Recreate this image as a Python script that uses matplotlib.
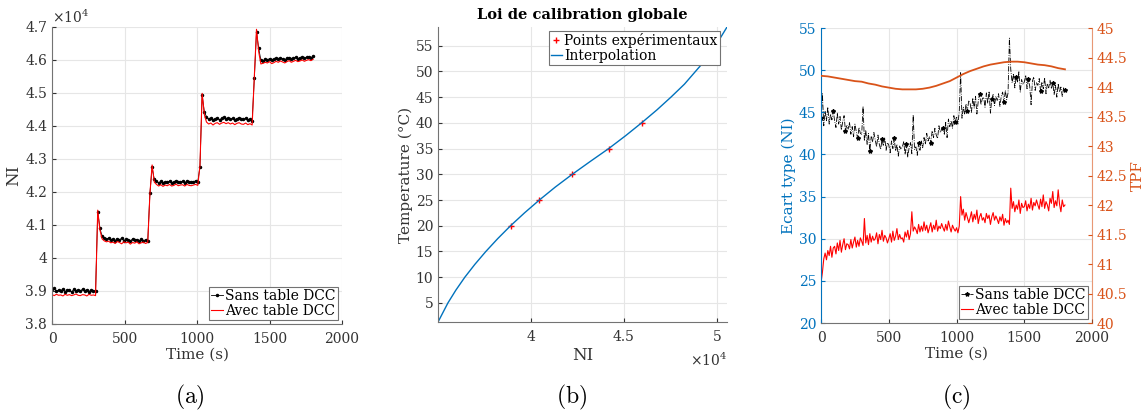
import matplotlib.pyplot as plt
import numpy as np
from matplotlib.ticker import FuncFormatter

plt.rcParams['font.family'] = 'DejaVu Serif'
plt.rcParams['mathtext.fontset'] = 'dejavuserif'

# ---------------- data : (a) NI step response ----------------
time_a = np.arange(0, 1801, 15)  # [s]
ni_sans = [39050, 39080, 38990, 39030, 39010, 39060, 38980, 39040, 39020, 38970,
           39050, 39010, 39030, 38990, 39060, 39000, 39040, 38980, 39030, 39010, 38990,
           41400,
           40900, 40660, 40620, 40580, 40600, 40540, 40570, 40520, 40590, 40550,
           40600, 40530, 40570, 40560, 40510, 40580, 40540, 40560, 40500, 40570,
           40530, 40550, 40520,
           41970, 42750,
           42380, 42330, 42280, 42320, 42260, 42310, 42290, 42330, 42280, 42300,
           42340, 42290, 42310, 42320, 42280, 42330, 42300, 42290, 42310, 42340, 42300,
           42770, 44950, 44430,
           44280, 44200, 44230, 44170, 44220, 44250, 44190, 44230, 44260, 44210,
           44240, 44200, 44230, 44190, 44220, 44250, 44210, 44200, 44230, 44180, 44210, 44160,
           45450, 46850, 46350,
           46000, 45980, 46020, 46010, 46040, 45990, 46030, 46050, 46020, 46060,
           46040, 46010, 46050, 46070, 46030, 46060, 46080, 46040, 46070, 46090,
           46060, 46080, 46100, 46070, 46110]
ni_avec = [38890, 38860, 38900, 38870, 38880, 38850, 38900, 38870, 38890, 38860,
           38880, 38910, 38870, 38860, 38890, 38880, 38850, 38900, 38870, 38880, 38860,
           41450,
           40850, 40580, 40520, 40490, 40510, 40460, 40480, 40440, 40500, 40470,
           40430, 40490, 40460, 40480, 40420, 40470, 40450, 40490, 40430, 40460,
           40480, 40440, 40470,
           41950, 42820,
           42300, 42230, 42180, 42220, 42170, 42210, 42190, 42230, 42180, 42200,
           42240, 42190, 42210, 42220, 42180, 42230, 42200, 42190, 42210, 42230, 42200,
           42800, 44990, 44350,
           44120, 44060, 44090, 44030, 44080, 44100, 44050, 44090, 44110, 44070,
           44100, 44060, 44090, 44040, 44080, 44100, 44060, 44050, 44090, 44040, 44070, 44030,
           45500, 46930, 46250,
           45880, 45900, 45930, 45910, 45950, 45890, 45920, 45960, 45930, 45970,
           45940, 45910, 45950, 45980, 45930, 45960, 45990, 45950, 45970, 46000,
           45960, 45990, 46010, 45980, 46020]

# ---------------- data : (b) calibration law ----------------
ni_points = [38900, 40450, 42220, 44180, 45950]
temp_points = [20, 25, 30, 35, 40]
ni_curve = [35000, 35530, 35960, 36440, 36980, 37570, 38210, 38900, 39650, 40450,
            41300, 42220, 43190, 44180, 45090, 45950, 46770, 47530, 48250, 48850,
            49450, 49930, 50540]
temp_curve = [1.3, 5, 7.5, 10, 12.5, 15, 17.5, 20, 22.5, 25,
              27.5, 30, 32.5, 35, 37.5, 40, 42.5, 45, 47.5, 50,
              52.5, 55, 58.6]

# ---------------- data : (c) standard deviation / TPF ----------------
time_c = np.arange(0, 1801, 10)  # [s]
std_sans = [44.3, 47.2, 43.4, 45.1, 44.0, 45.6, 43.6, 44.8, 44.1, 45.2,
            44.0, 43.2, 44.9, 43.6, 44.5, 42.9, 43.9, 44.6, 42.8, 43.5,
            43.0, 43.8, 42.4, 43.3, 42.1, 43.6, 42.7, 41.9, 43.2, 42.5,
            42.4, 45.7, 41.6, 42.9, 41.2, 42.5, 40.4, 42.1, 41.5, 42.6,
            41.7, 40.9, 42.3, 41.2, 40.6, 41.8, 41.0, 42.0, 40.5, 41.4,
            41.1, 40.2, 41.6, 40.7, 41.9, 40.4, 41.2, 39.8, 41.0, 40.6,
            40.9, 41.5, 40.0, 41.2, 39.7, 40.8, 41.4, 40.1, 44.7, 40.6,
            40.9, 39.9, 41.3, 40.5, 41.6, 40.8, 42.0, 41.2, 42.5, 41.6,
            42.1, 41.4, 42.8, 42.0, 43.1, 42.3, 41.9, 43.4, 42.6, 43.0,
            43.1, 42.4, 43.8, 42.0, 44.2, 43.3, 44.0, 43.1, 44.6, 43.8,
            44.5, 43.6, 45.1, 49.7, 44.3, 45.6, 44.8, 46.0, 45.2, 46.4,
            46.1, 45.0, 46.7, 45.5, 46.9, 44.8, 46.3, 47.2, 45.9, 46.6,
            46.8, 45.6, 47.3, 46.1, 47.5, 44.9, 46.6, 47.1, 45.8, 46.9,
            46.4, 47.2, 45.7, 46.9, 47.4, 46.2, 47.6, 46.5, 47.3, 53.8,
            50.1, 48.5, 49.6, 47.9, 49.2, 48.6, 49.8, 47.4, 48.9, 48.3,
            48.6, 49.4, 47.8, 48.9, 48.1, 45.9, 48.7, 49.2, 47.6, 48.5,
            48.2, 49.0, 47.5, 48.6, 47.8, 49.1, 47.2, 48.4, 47.9, 48.8,
            47.8, 48.5, 47.1, 48.2, 46.8, 48.4, 47.4, 48.0, 46.9, 47.9,
            47.6]
std_avec = [24.8, 26.0, 27.6, 28.3, 27.5, 28.6, 28.0, 29.1, 27.8, 28.9,
            29.1, 28.2, 29.5, 28.6, 29.8, 28.4, 29.3, 30.0, 28.7, 29.4,
            29.3, 28.8, 29.9, 28.9, 29.6, 30.2, 29.0, 29.8, 29.1, 30.1,
            29.7, 29.2, 32.4, 29.5, 30.4, 29.3, 30.6, 29.6, 30.3, 29.8,
            30.0, 30.7, 29.4, 30.5, 29.9, 31.0, 29.7, 30.4, 30.1, 29.5,
            30.0, 30.6, 29.6, 30.9, 29.8, 30.3, 31.2, 29.9, 30.5, 30.0,
            30.1, 29.6, 30.8, 30.2, 31.0, 29.9, 30.6, 33.2, 30.9, 31.4,
            31.1, 30.6, 31.7, 30.8, 31.5, 30.9, 32.0, 31.0, 31.6, 30.7,
            31.3, 31.9, 30.8, 31.6, 31.1, 32.2, 30.9, 31.5, 31.2, 31.8,
            31.3, 30.9, 31.7, 31.0, 32.1, 31.4, 30.8, 31.6, 31.2, 30.9,
            31.3, 30.7, 31.5, 35.0, 32.8, 33.5, 32.2, 33.1, 32.5, 31.9,
            32.5, 33.2, 32.0, 32.9, 32.3, 33.4, 31.8, 32.6, 33.0, 32.2,
            32.5, 31.9, 33.0, 32.4, 32.8, 31.7, 32.6, 33.1, 32.2, 32.7,
            32.3, 31.8, 32.6, 32.1, 32.9, 31.6, 32.4, 31.9, 32.2, 31.7,
            36.0, 33.6, 34.4, 33.2, 34.0, 33.5, 34.6, 33.0, 34.2, 33.7,
            33.8, 34.5, 33.3, 34.1, 33.6, 34.8, 33.4, 34.3, 33.9, 34.6,
            34.0, 33.5, 34.7, 33.8, 35.2, 33.6, 34.4, 34.0, 33.3, 34.8,
            34.2, 35.6, 33.7, 34.5, 33.9, 35.8, 34.1, 33.2, 34.6, 33.8,
            34.0]
time_tpf = np.arange(0, 1801, 50)
tpf = [44.19, 44.18, 44.16, 44.14, 44.12, 44.10, 44.09, 44.06, 44.04, 44.01,
       43.99, 43.97, 43.96, 43.96, 43.96, 43.97, 43.99, 44.02, 44.06, 44.10,
       44.16, 44.22, 44.27, 44.31, 44.35, 44.38, 44.40, 44.42, 44.43, 44.43,
       44.42, 44.40, 44.38, 44.37, 44.35, 44.32, 44.30]

BLUE = '#0072BD'
ORANGE = '#D95319'
TXT = '0.2'


def matlabStyle(ax):
    ax.grid(True, color='0.9', linewidth=0.8)
    ax.set_axisbelow(True)
    for s in ['top', 'right']:
        ax.spines[s].set_visible(False)
    for s in ['left', 'bottom']:
        ax.spines[s].set_color('0.45')
        ax.spines[s].set_linewidth(0.8)
    ax.tick_params(direction='in', length=3, labelsize=10, colors=TXT)
    ax.tick_params(axis='x', pad=6)


def legendStyle(ax, **kw):
    leg = ax.legend(fontsize=10, handlelength=0.8, handletextpad=0.2, borderpad=0.15,
                    labelspacing=0.05, borderaxespad=0.3, fancybox=False,
                    framealpha=1, **kw)
    leg.get_frame().set_edgecolor('0.45')
    leg.get_frame().set_linewidth(0.8)
    return leg


fig = plt.figure(figsize=(11.44, 4.12), dpi=100)

# (a)
ax1 = fig.add_axes([0.0455, 0.2136, 0.2535, 0.7209])
ax1.plot(time_a, ni_sans, '.-', color='k', markersize=3, linewidth=0.6, label='Sans table DCC')
ax1.plot(time_a, ni_avec, '-', color='r', linewidth=0.8, label='Avec table DCC')
ax1.set_xlim(0, 2000)
ax1.set_ylim(38000, 47000)
ax1.set_xticks([0, 500, 1000, 1500, 2000])
ax1.set_yticks(np.arange(38000, 47001, 1000))
ax1.yaxis.set_major_formatter(FuncFormatter(lambda v, p: '%g' % (v / 1e4)))
matlabStyle(ax1)
ax1.set_xlabel('Time (s)', fontsize=11, color=TXT, labelpad=1)
ax1.set_ylabel('NI', fontsize=12, color=TXT, labelpad=2)
ax1.text(0.0, 1.005, r'$\times10^4$', transform=ax1.transAxes, fontsize=10,
         color=TXT, va='bottom', ha='left')
legendStyle(ax1, loc='lower right')

# (b)
ax2 = fig.add_axes([0.3829, 0.2184, 0.2526, 0.716])
ax2.plot(ni_points, temp_points, '+', color='r', markersize=5, markeredgewidth=1,
         label='Points expérimentaux')
ax2.plot(ni_curve, temp_curve, '-', color=BLUE, linewidth=1, label='Interpolation')
ax2.set_xlim(35000, 50540)
ax2.set_ylim(1.3, 58.6)
ax2.set_xticks([40000, 45000, 50000])
ax2.set_yticks(np.arange(5, 56, 5))
ax2.xaxis.set_major_formatter(FuncFormatter(lambda v, p: '%g' % (v / 1e4)))
matlabStyle(ax2)
ax2.set_xlabel('NI', fontsize=12, color=TXT, labelpad=2)
ax2.set_ylabel('Temperature (°C)', fontsize=11, color=TXT, labelpad=2)
ax2.set_title('Loi de calibration globale', fontsize=10.5, fontweight='bold', pad=6)
ax2.text(1.0, -0.1, r'$\times10^4$', transform=ax2.transAxes, fontsize=10,
         color=TXT, va='top', ha='right')
legendStyle(ax2, loc='upper right', bbox_to_anchor=(0.99, 1.0))

# (c)
ax3 = fig.add_axes([0.7177, 0.216, 0.2369, 0.716])
ax3r = ax3.twinx()
ax3.plot(time_c, std_sans, '-.', color='k', marker='*', markersize=3, markevery=9,
         linewidth=0.6, label='Sans table DCC')
ax3.plot(time_c, std_avec, '-', color='r', linewidth=0.8, label='Avec table DCC')
ax3r.plot(time_tpf, tpf, '-', color=ORANGE, linewidth=1.3)
ax3.set_xlim(0, 2000)
ax3.set_ylim(20, 55)
ax3r.set_ylim(40, 45)
ax3.set_xticks([0, 500, 1000, 1500, 2000])
ax3.set_yticks(np.arange(20, 56, 5))
ax3r.set_yticks(np.arange(40, 45.01, 0.5))
ax3r.yaxis.set_major_formatter(FuncFormatter(lambda v, p: '%g' % v))
matlabStyle(ax3)
ax3.spines['left'].set_color(BLUE)
ax3.tick_params(axis='y', colors=BLUE, labelcolor=BLUE)
for s in ['top', 'left', 'bottom']:
    ax3r.spines[s].set_visible(False)
ax3r.spines['right'].set_color(ORANGE)
ax3r.spines['right'].set_alpha(0.6)
ax3r.tick_params(direction='in', length=3, labelsize=10, colors=ORANGE)
ax3.set_xlabel('Time (s)', fontsize=11, color=TXT, labelpad=1)
ax3.set_ylabel('Ecart type (NI)', fontsize=11, color=BLUE, labelpad=2)
ax3r.set_ylabel('TPF', fontsize=11, color=ORANGE, labelpad=2)
legendStyle(ax3, loc='lower right')

# sub-figure captions
for x, lab in [(0.166, '(a)'), (0.500, '(b)'), (0.836, '(c)')]:
    fig.text(x, 0.035, r'$\mathrm{%s}$' % lab, fontsize=17, ha='center', va='center',
             math_fontfamily='cm')

fig.savefig('out.png', dpi=100)
